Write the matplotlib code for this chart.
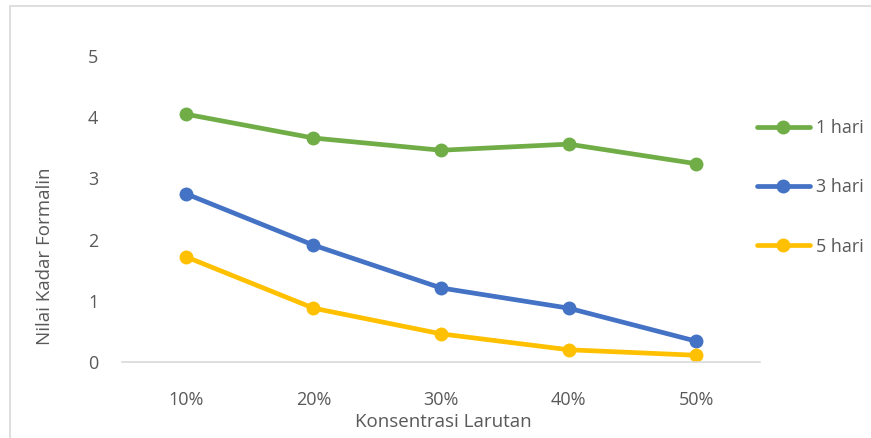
import matplotlib
matplotlib.use("Agg")
import matplotlib.pyplot as plt
from matplotlib.patches import Rectangle

plt.rcParams['font.family'] = ['Open Sans', 'DejaVu Sans']

categories = ['10%', '20%', '30%', '40%', '50%']
hari1 = [4.05, 3.66, 3.46, 3.56, 3.24]
hari3 = [2.75, 1.91, 1.21, 0.88, 0.34]
hari5 = [1.72, 0.88, 0.46, 0.20, 0.11]
labels = ['1 hari', '3 hari', '5 hari']
colors = ['#70AD47', '#4472C4', '#FFC000']
text_col = '#595959'

W, H = 871, 438
fig = plt.figure(figsize=(W / 100, H / 100), dpi=100)

# outer chart frame (runs off the right and bottom edge)
fig.patches.append(Rectangle((10 / W, -0.05), 1.2, (H - 6) / H + 0.05,
                             transform=fig.transFigure, fill=False,
                             edgecolor='#D9D9D9', lw=1.2))

ax = fig.add_axes([122 / W, 1 - 362 / H, (760 - 122) / W, (362 - 56) / H])

x = range(len(categories))
for vals, lab, c in zip([hari1, hari3, hari5], labels, colors):
    ax.plot(x, vals, color=c, lw=3.4, marker='o', ms=9, label=lab,
            solid_capstyle='round')

ax.set_xlim(-0.5, len(categories) - 0.5)
ax.set_ylim(0, 5)
ax.set_yticks(range(6))
ax.set_xticks(list(x))
ax.set_xticklabels(categories)
for s in ['top', 'right', 'left']:
    ax.spines[s].set_visible(False)
ax.spines['bottom'].set_color('#D9D9D9')
ax.spines['bottom'].set_linewidth(1.2)
ax.tick_params(length=0, colors=text_col, labelsize=13)
ax.tick_params(axis='y', pad=17)
ax.tick_params(axis='x', pad=21)

fig.text(355 / W, 1 - 422 / H, 'Konsentrasi Larutan', color=text_col,
         fontsize=13.5, ha='left', va='center')
fig.text(45 / W, 1 - 256 / H, 'Nilai Kadar Formalin', color=text_col,
         fontsize=13.5, rotation=90, ha='center', va='center')

leg = fig.legend(loc='upper left', bbox_to_anchor=(741 / W, 1 - 103 / H),
                 frameon=False, labelspacing=2.28, handlelength=2.9,
                 handletextpad=0.35, fontsize=13, labelcolor=text_col)

fig.savefig('out.png', dpi=100)
